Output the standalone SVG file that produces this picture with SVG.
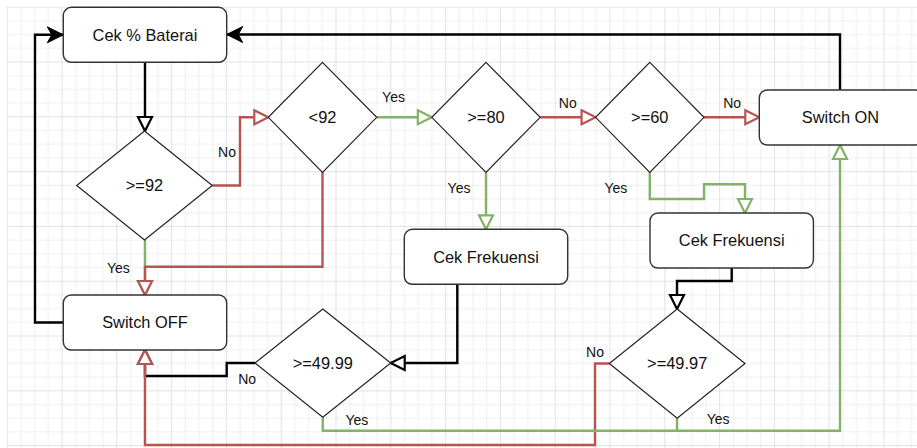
<svg xmlns="http://www.w3.org/2000/svg" width="917" height="448" viewBox="0 0 917 448">
<style>
.box{fill:#fff;stroke:#333;stroke-width:1.4}
.dia{fill:#fff;stroke:#222;stroke-width:1.2}
.t{font-family:"Liberation Sans",Arial,sans-serif;font-size:16.4px;fill:#111;text-anchor:middle}
.lbl{font-family:"Liberation Sans",Arial,sans-serif;font-size:14px;fill:#111;text-anchor:middle}
.e{fill:none;stroke-width:2.4;stroke-linejoin:miter}
.k{stroke:#000}
.r{stroke:#b85450}
.g{stroke:#82b366}
</style>
<defs>
<pattern id="grid" patternUnits="userSpaceOnUse" x="6.7" y="6.7" width="54.8" height="54.8">
<rect x="0" y="0" width="54.8" height="54.8" fill="#fff"/>
<g fill="#f0f0f0">
<rect x="13.7" y="0" width="1" height="54.8"/>
<rect x="27.4" y="0" width="1" height="54.8"/>
<rect x="41.1" y="0" width="1" height="54.8"/>
<rect x="0" y="13.7" width="54.8" height="1"/>
<rect x="0" y="27.4" width="54.8" height="1"/>
<rect x="0" y="41.1" width="54.8" height="1"/>
</g>
<g fill="#e3e3e3">
<rect x="0" y="0" width="1" height="54.8"/>
<rect x="0" y="0" width="54.8" height="1"/>
</g>
</pattern>
<marker id="hk" markerUnits="userSpaceOnUse" viewBox="0 0 14 14" refX="14" refY="7" markerWidth="14" markerHeight="14" orient="auto" overflow="visible"><path d="M0,0 L14,7 L0,14 Z" fill="#fff" stroke="#000" stroke-width="2.2"/></marker>
<marker id="hr" markerUnits="userSpaceOnUse" viewBox="0 0 14 14" refX="14" refY="7" markerWidth="14" markerHeight="14" orient="auto" overflow="visible"><path d="M0,0 L14,7 L0,14 Z" fill="#fff" stroke="#b85450" stroke-width="2.2"/></marker>
<marker id="hg" markerUnits="userSpaceOnUse" viewBox="0 0 14 14" refX="14" refY="7" markerWidth="14" markerHeight="14" orient="auto" overflow="visible"><path d="M0,0 L14,7 L0,14 Z" fill="#fff" stroke="#82b366" stroke-width="2.2"/></marker>
<marker id="ck" markerUnits="userSpaceOnUse" viewBox="0 0 16 16" refX="16" refY="8" markerWidth="16" markerHeight="16" orient="auto" overflow="visible"><path d="M16,8 L0,0 L4.5,8 L0,16 Z" fill="#000" stroke="#000" stroke-width="1"/></marker>
</defs>
<rect x="0" y="0" width="917" height="448" fill="#fff"/>
<rect x="6.7" y="6.7" width="910.3" height="441.3" fill="url(#grid)"/>

<g id="connectors">
<path class="e k" d="M145,62.3 V131" marker-end="url(#hk)"/>
<path class="e r" d="M212.3,185.5 H240 V117.3 H268.3" marker-end="url(#hr)"/>
<path class="e g" d="M376.7,117.3 H431.8" marker-end="url(#hg)"/>
<path class="e g" d="M145,240 V295" marker-end="url(#hg)"/>
<path class="e r" d="M322.5,172.3 V266.7 H145 V295" marker-end="url(#hr)"/>
<path class="e r" d="M540.2,117.3 H595.6" marker-end="url(#hr)"/>
<path class="e r" d="M704,117.3 H759.3" marker-end="url(#hr)"/>
<path class="e g" d="M486,172.3 V229.3" marker-end="url(#hg)"/>
<path class="e g" d="M649.8,172.3 V199 H704 V184.3 H745 V213" marker-end="url(#hg)"/>
<path class="e k" d="M457.3,284.3 V363 H390.7" marker-end="url(#hk)"/>
<path class="e k" d="M731.7,268 V281 H677 V309" marker-end="url(#hk)"/>
<path class="e k" d="M255,363 H226.7 V376 H145 V350" marker-end="url(#hk)"/>
<path class="e r" d="M609.3,363.5 H595 V445 H145 V350" marker-end="url(#hr)"/>
<path class="e g" d="M322.8,417.3 V430.7 H840 V145" marker-end="url(#hg)"/>
<path class="e g" d="M677,418.3 V430.7"/>
<path class="e k" d="M840,90 V34.5 H226.7" marker-end="url(#ck)"/>
<path class="e k" d="M63.3,322.5 H35 V34.8 H63.3" marker-end="url(#ck)"/>
<text class="lbl" x="227" y="156.7">No</text>
<text class="lbl" x="393.5" y="101.7">Yes</text>
<text class="lbl" x="118.3" y="272.7">Yes</text>
<text class="lbl" x="567.8" y="108.3">No</text>
<text class="lbl" x="732.2" y="108.3">No</text>
<text class="lbl" x="459" y="192.7">Yes</text>
<text class="lbl" x="615.8" y="192.7">Yes</text>
<text class="lbl" x="247.2" y="384">No</text>
<text class="lbl" x="356.8" y="424.7">Yes</text>
<text class="lbl" x="595" y="356.7">No</text>
<text class="lbl" x="718.2" y="424">Yes</text>
</g>

<g id="cek-baterai"><rect class="box" x="63.3" y="7.3" width="163.4" height="55" rx="8"/><text class="t" x="145" y="40.6">Cek % Baterai</text></g>
<g id="d-ge92"><path class="dia" d="M144.5,131 L212.3,185.5 L144.5,240 L76.7,185.5 Z"/><text class="t" x="144.5" y="191.3">&gt;=92</text></g>
<g id="d-lt92"><path class="dia" d="M322.5,62.3 L376.7,117.3 L322.5,172.3 L268.3,117.3 Z"/><text class="t" x="322.5" y="123.1">&lt;92</text></g>
<g id="d-ge80"><path class="dia" d="M486,62.3 L540.2,117.3 L486,172.3 L431.8,117.3 Z"/><text class="t" x="486" y="123.1">&gt;=80</text></g>
<g id="d-ge60"><path class="dia" d="M649.8,62.3 L704,117.3 L649.8,172.3 L595.6,117.3 Z"/><text class="t" x="649.8" y="123.1">&gt;=60</text></g>
<g id="switch-on"><rect class="box" x="759.3" y="90" width="163.4" height="55" rx="8"/><text class="t" x="840.5" y="123.3">Switch ON</text></g>
<g id="cek-frek-1"><rect class="box" x="404.3" y="229.3" width="163.4" height="55" rx="8"/><text class="t" x="486" y="262.6">Cek Frekuensi</text></g>
<g id="cek-frek-2"><rect class="box" x="650" y="213" width="163.4" height="55" rx="8"/><text class="t" x="731.7" y="246.3">Cek Frekuensi</text></g>
<g id="switch-off"><rect class="box" x="63.3" y="295" width="163.4" height="55" rx="8"/><text class="t" x="145" y="328.3">Switch OFF</text></g>
<g id="d-ge4999"><path class="dia" d="M322.8,309 L390.7,363 L322.8,417.3 L255,363 Z"/><text class="t" x="322.8" y="368.8">&gt;=49.99</text></g>
<g id="d-ge4997"><path class="dia" d="M677.2,309 L745,363.5 L677.2,418.3 L609.3,363.5 Z"/><text class="t" x="677.2" y="369.3">&gt;=49.97</text></g>
</svg>
